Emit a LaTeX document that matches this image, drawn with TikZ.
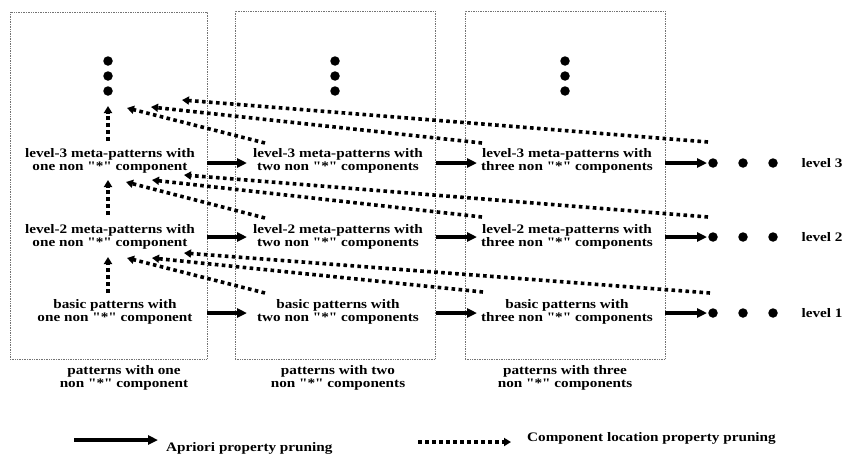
\documentclass[tikz,border=0pt]{standalone}
\usepackage{fontspec}
\setmainfont{Liberation Serif}[FakeStretch=1.17, Ligatures=TeXOff]
\usetikzlibrary{arrows.meta}
\newcommand{\sq}{\char34\relax}
\tikzset{
  lbl/.style={font=\fontsize{13}{11}\selectfont\bfseries, align=center, inner sep=0pt},
  leg/.style={font=\fontsize{13}{13}\selectfont\bfseries, inner sep=0pt},
  lvl/.style={font=\fontsize{13}{13}\selectfont\bfseries, inner sep=0pt},
  framebox/.style={draw=black!55, line width=0.5pt, dash pattern=on 0.8pt off 0.9pt, inner sep=0pt},
  solidarrow/.style={line width=3.2pt, -{Triangle[length=10pt,width=9pt]}},
  dotarrow/.style={line width=3.6pt, dash pattern=on 3.6pt off 3.4pt, -{Triangle[length=7pt,width=8pt]}},
  bigdot/.style={circle, fill=black, inner sep=0pt, minimum size=9.5pt}
}
\begin{document}
\begin{tikzpicture}[x=1pt,y=-1pt]
\useasboundingbox (0,0) rectangle (845,455);

% frames
\node[framebox, minimum width=197pt, minimum height=347pt] (box1) at (108.5,185.5) {};
\node[framebox, minimum width=200pt, minimum height=348pt] (box2) at (335,185) {};
\node[framebox, minimum width=200pt, minimum height=348pt] (box3) at (565,185) {};

% vertical dots in columns
\foreach \c/\x in {1/108,2/335,3/565}{
  \node[bigdot] (v\c a) at (\x,61) {};
  \node[bigdot] (v\c b) at (\x,76) {};
  \node[bigdot] (v\c c) at (\x,91) {};
}

% texts
\node[lbl] (t13) at (110,161) {level-3 meta-patterns with\\one non \sq*\sq{} component};
\node[lbl] (t23) at (338,161) {level-3 meta-patterns with\\two non \sq*\sq{} components};
\node[lbl] (t33) at (567,161) {level-3 meta-patterns with\\three non \sq*\sq{} components};
\node[lbl] (t12) at (110,237) {level-2 meta-patterns with\\one non \sq*\sq{} component};
\node[lbl] (t22) at (338,237) {level-2 meta-patterns with\\two non \sq*\sq{} components};
\node[lbl] (t32) at (567,237) {level-2 meta-patterns with\\three non \sq*\sq{} components};
\node[lbl] (t11) at (115,312) {basic patterns with\\one non \sq*\sq{} component};
\node[lbl] (t21) at (338,312) {basic patterns with\\two non \sq*\sq{} components};
\node[lbl] (t31) at (567,312) {basic patterns with\\three non \sq*\sq{} components};

% bottom labels
\node[lbl] (b1) at (124,378) {patterns with one\\non \sq*\sq{} component};
\node[lbl] (b2) at (338,378) {patterns with two\\non \sq*\sq{} components};
\node[lbl] (b3) at (565,378) {patterns with three\\non \sq*\sq{} components};

% right dots and level labels
\foreach \r/\y in {3/163,2/237,1/313}{
  \node[bigdot] (r\r a) at (713,\y) {};
  \node[bigdot] (r\r b) at (743,\y) {};
  \node[bigdot] (r\r c) at (773,\y) {};
  \node[lvl] (lv\r) at (822,\y) {level \r};
  \coordinate (s\r a) at (207,\y);
  \coordinate (e\r a) at (247,\y);
  \coordinate (s\r b) at (436,\y);
  \coordinate (e\r b) at (477,\y);
  \coordinate (s\r c) at (665,\y);
  \coordinate (e\r c) at (707,\y);
  \draw[solidarrow] (s\r a) -- (e\r a);
  \draw[solidarrow] (s\r b) -- (e\r b);
  \draw[solidarrow] (s\r c) -- (e\r c);
}

% dotted arrow endpoints
% group A (into level 3)
\coordinate (AV0) at (108,141); \coordinate (AV1) at (108,106);
\coordinate (A10) at (265,143); \coordinate (A11) at (127,108);
\coordinate (A20) at (482,143); \coordinate (A21) at (151,107);
\coordinate (A30) at (708,142); \coordinate (A31) at (182,100);
% group B (into level 2 meta)
\coordinate (BV0) at (108,215); \coordinate (BV1) at (108,180);
\coordinate (B10) at (265,218); \coordinate (B11) at (126,182);
\coordinate (B20) at (482,217); \coordinate (B21) at (152,180);
\coordinate (B30) at (708,217); \coordinate (B31) at (184,175);
% group C (into level 2)
\coordinate (CV0) at (108,293); \coordinate (CV1) at (108,257);
\coordinate (C10) at (265,293); \coordinate (C11) at (127,258);
\coordinate (C20) at (483,292); \coordinate (C21) at (152,258);
\coordinate (C30) at (710,293); \coordinate (C31) at (184,253);

\foreach \g in {A,B,C}{
  \draw[dotarrow] (\g V0) -- (\g V1);
  \draw[dotarrow] (\g 10) -- (\g 11);
  \draw[dotarrow] (\g 20) -- (\g 21);
  \draw[dotarrow] (\g 30) -- (\g 31);
}

% legend
\coordinate (L1s) at (74,440); \coordinate (L1e) at (158,440);
\draw[solidarrow] (L1s) -- (L1e);
\node[leg, anchor=base west] (L1t) at (166,451) {Apriori property pruning};
\coordinate (L2s) at (418,442); \coordinate (L2e) at (511,442);
\draw[dotarrow] (L2s) -- (L2e);
\node[leg, anchor=west] (L2t) at (527,438) {Component location property pruning};
\end{tikzpicture}
\end{document}
